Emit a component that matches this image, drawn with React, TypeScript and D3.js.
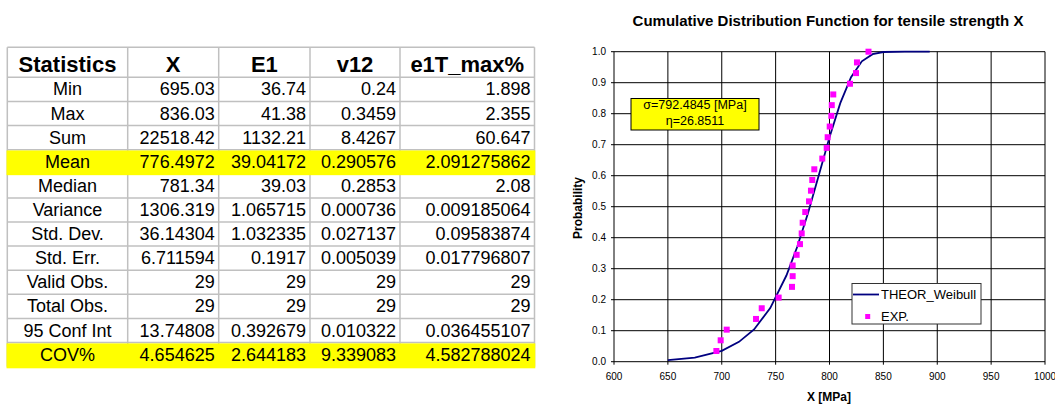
import React from "react";
import * as d3 from "d3";

// ---------- Table data ----------
const headers = ["Statistics", "X", "E1", "v12", "e1T_max%"];
const statLabels = ["Min", "Max", "Sum", "Mean", "Median", "Variance", "Std. Dev.", "Std. Err.", "Valid Obs.", "Total Obs.", "95 Conf Int", "COV%"];
const colX = ["695.03", "836.03", "22518.42", "776.4972", "781.34", "1306.319", "36.14304", "6.711594", "29", "29", "13.74808", "4.654625"];
const colE1 = ["36.74", "41.38", "1132.21", "39.04172", "39.03", "1.065715", "1.032335", "0.1917", "29", "29", "0.392679", "2.644183"];
const colV12 = ["0.24", "0.3459", "8.4267", "0.290576", "0.2853", "0.000736", "0.027137", "0.005039", "29", "29", "0.010322", "9.339083"];
const colE1T = ["1.898", "2.355", "60.647", "2.091275862", "2.08", "0.009185064", "0.09583874", "0.017796807", "29", "29", "0.036455107", "4.582788024"];
const highlightRows = ["Mean", "COV%"];

// ---------- Chart data ----------
const chartTitle = "Cumulative Distribution Function for tensile strength X";
const xTicks = [600, 650, 700, 750, 800, 850, 900, 950, 1000];
const yTicks = [0, 0.1, 0.2, 0.3, 0.4, 0.5, 0.6, 0.7, 0.8, 0.9, 1.0];
const weibullX = [650, 675, 700, 716, 730, 745, 760, 770, 780, 790, 800, 810, 820, 830, 840, 850, 870, 893];
const weibullP = [0.005, 0.013, 0.035, 0.064, 0.104, 0.173, 0.278, 0.37, 0.479, 0.601, 0.724, 0.834, 0.918, 0.969, 0.992, 0.999, 1.0, 1.0];
const expX = [695.0, 699.0, 704.6, 731.8, 737.1, 752.8, 765.2, 765.8, 765.8, 769.5, 772.6, 774.2, 775.1, 777.5, 781.0, 782.8, 784.0, 785.9, 793.3, 797.4, 798.3, 800.2, 801.7, 802.1, 803.5, 819.0, 824.6, 825.5, 836.2];
const expP = [0.0345, 0.069, 0.1034, 0.1379, 0.1724, 0.2069, 0.2414, 0.2759, 0.3103, 0.3448, 0.3793, 0.4138, 0.4483, 0.4828, 0.5172, 0.5517, 0.5862, 0.6207, 0.6552, 0.6897, 0.7241, 0.7586, 0.7931, 0.8276, 0.8621, 0.8966, 0.931, 0.9655, 1.0];
const annotationLines = ["σ=792.4845 [MPa]", "η=26.8511"];
const legendItems = ["THEOR_Weibull", "EXP."];

const FONT = "'Liberation Sans', Arial, sans-serif";

function Table() {
  const colEdges = [7.3, 127.7, 218.7, 310, 400, 534.5];
  const headTop = 47.3;
  const headBottom = 77.3;
  const rowH = (366.7 - headBottom) / statLabels.length;
  const rowTop = (i: number) => headBottom + i * rowH;
  const cols = [colX, colE1, colV12, colE1T];
  const grid = "#c0c0c0";
  const left = colEdges[0];
  const right = colEdges[colEdges.length - 1];
  const bottom = rowTop(statLabels.length);
  return (
    <g fontFamily={FONT}>
      {[headTop, headBottom, ...statLabels.map((_, i) => rowTop(i + 1))].map((y, i) => (
        <line key={"h" + i} x1={left} x2={right} y1={y} y2={y} stroke={grid} strokeWidth={1.5} />
      ))}
      {colEdges.map((x, i) => (
        <line key={"v" + i} x1={x} x2={x} y1={headTop} y2={bottom} stroke={grid} strokeWidth={1.5} />
      ))}
      {statLabels.map((l, i) =>
        highlightRows.includes(l) ? (
          <rect key={"y" + i} x={left - 0.8} y={rowTop(i) + 0.8} width={right - left + 1.6} height={rowH + (i === statLabels.length - 1 ? 0.8 : 0.6)} fill="#ffff00" />
        ) : null
      )}
      {headers.map((h, i) => (
        <text key={"hd" + i} x={(colEdges[i] + colEdges[i + 1]) / 2} y={headBottom - 5} fontSize={22} fontWeight="bold" textAnchor="middle">
          {h}
        </text>
      ))}
      {statLabels.map((l, i) => (
        <g key={"r" + i}>
          <text x={(colEdges[0] + colEdges[1]) / 2} y={rowTop(i + 1) - 6} fontSize={18} textAnchor="middle">
            {l}
          </text>
          {cols.map((c, j) => (
            <text key={j} x={colEdges[j + 2] - 4} y={rowTop(i + 1) - 6} fontSize={18} textAnchor="end">
              {c[i]}
            </text>
          ))}
        </g>
      ))}
    </g>
  );
}

function Chart() {
  const x = d3.scaleLinear().domain([600, 1000]).range([614, 1045]);
  const y = d3.scaleLinear().domain([0, 1]).range([361.7, 51.7]);
  const pts = weibullX.map((v, i) => [v, weibullP[i]] as [number, number]);
  const line = d3.line<[number, number]>().x((d) => x(d[0])).y((d) => y(d[1]));
  const ms = 6;
  return (
    <g fontFamily={FONT}>
      <text x={828} y={26} fontSize={15} fontWeight="bold" textAnchor="middle">
        {chartTitle}
      </text>
      <rect x={x(600)} y={y(1)} width={x(1000) - x(600)} height={y(0) - y(1)} fill="#fff" stroke="none" />
      {yTicks.map((t, i) => (
        <g key={"yt" + i}>
          <line x1={x(600) - 3} x2={x(1000)} y1={y(t)} y2={y(t)} stroke="#000" strokeWidth={1} />
          <text x={606} y={y(t) + 3.5} fontSize={10} textAnchor="end">
            {t.toFixed(1)}
          </text>
        </g>
      ))}
      {xTicks.map((t, i) => (
        <g key={"xt" + i}>
          <line x1={x(t)} x2={x(t)} y1={y(1)} y2={y(0) + 3} stroke="#000" strokeWidth={1} />
          <text x={x(t)} y={380} fontSize={10} textAnchor="middle">
            {t}
          </text>
        </g>
      ))}
      <text x={829} y={401} fontSize={12} fontWeight="bold" textAnchor="middle">
        X [MPa]
      </text>
      <text transform="translate(582,208) rotate(-90)" fontSize={12} fontWeight="bold" textAnchor="middle">
        Probability
      </text>
      <path d={line(pts) || ""} fill="none" stroke="#000080" strokeWidth={1.8} />
      {expX.map((v, i) => (
        <rect key={"m" + i} x={x(v) - ms / 2} y={y(expP[i]) - ms / 2} width={ms} height={ms} fill="#ff00ff" />
      ))}
      {/* annotation */}
      <rect x={631} y={98.5} width={128} height={31.5} fill="#ffff00" stroke="#000" strokeWidth={1} />
      {annotationLines.map((t, i) => (
        <text key={"an" + i} x={695} y={109 + i * 16} fontSize={12.5} textAnchor="middle">
          {t}
        </text>
      ))}
      {/* legend */}
      <rect x={852} y={283.5} width={129} height={40.5} fill="#fff" stroke="#333" strokeWidth={1} />
      <line x1={853} x2={879} y1={294.5} y2={294.5} stroke="#000080" strokeWidth={1.8} />
      <text x={881} y={299} fontSize={13}>
        {legendItems[0]}
      </text>
      <rect x={867.7 - 2.5} y={316.5 - 2.5} width={5} height={5} fill="#ff00ff" />
      <text x={881} y={320.5} fontSize={13}>
        {legendItems[1]}
      </text>
    </g>
  );
}

export default function App() {
  return (
    <svg width={1055} height={408} style={{ position: "absolute", left: 0, top: 0, background: "#fff" }}>
      <rect x={0} y={0} width={1055} height={408} fill="#fff" />
      <Table />
      <Chart />
    </svg>
  );
}
